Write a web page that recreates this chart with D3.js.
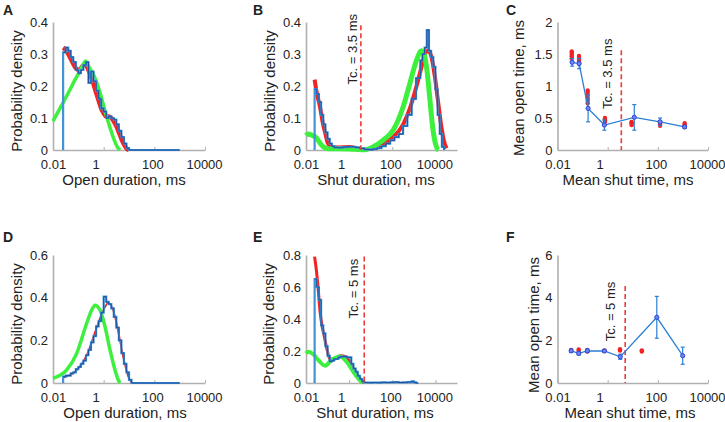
<!DOCTYPE html>
<html><head><meta charset="utf-8">
<script src="https://cdn.jsdelivr.net/npm/d3@7"></script>
<style>
body{margin:0;background:#fff}
svg{display:block}
text{font-family:"Liberation Sans",Arial,Helvetica,sans-serif;fill:#222}
</style>
</head><body>
<svg id="c" width="725" height="422"></svg>
<script>
// ---------- DATA ----------
const xTickValues = [0.01, 1, 100, 10000];
const xTickLabels = ["0.01", "1", "100", "10000"];
const xLabelShift = [0, -8, -2, -1];

const yTicksA = [0, 0.1, 0.2, 0.3, 0.4];
const yTicksB = [0, 0.1, 0.2, 0.3, 0.4];
const yTicksC = [0, 0.5, 1, 1.5, 2];
const yTicksD = [0, 0.2, 0.4, 0.6];
const yTicksE = [0, 0.2, 0.4, 0.6, 0.8];
const yTicksF = [0, 2, 4, 6];

// histograms: [bin start (ms), density]
const histA = [[0.0251,0.305],[0.0316,0.32],[0.0398,0.31],[0.0501,0.29],[0.0631,0.275],[0.0794,0.25],[0.1,0.24],[0.126,0.25],[0.158,0.265],[0.2,0.275],[0.251,0.21],[0.316,0.245],[0.398,0.215],[0.501,0.185],[0.631,0.16],[0.794,0.13],[1,0.12],[1.26,0.1],[1.58,0.105],[2,0.1],[2.51,0.095],[3.16,0.08],[3.98,0.06],[5.01,0.04],[6.31,0.02],[7.94,0.006],[10,0],[1000,0]];
const redA = [[0.0251,0.32],[0.03,0.315],[0.04,0.3],[0.05,0.285],[0.063,0.27],[0.08,0.255],[0.1,0.25],[0.126,0.255],[0.158,0.265],[0.2,0.265],[0.25,0.25],[0.316,0.23],[0.4,0.205],[0.5,0.18],[0.63,0.155],[0.8,0.13],[1,0.115],[1.26,0.105],[1.58,0.105],[2,0.1],[2.5,0.09],[3.16,0.075],[4,0.055],[5,0.035],[6.3,0.018],[8,0.005],[10,0]];
const greenA = [[0.01,0.09],[0.025,0.148],[0.05,0.193],[0.063,0.209],[0.1,0.238],[0.158,0.268],[0.19,0.278],[0.25,0.262],[0.39,0.237],[0.716,0.18],[1.13,0.122],[1.78,0.07],[2.56,0.033],[3.45,0.01],[4.4,0]];

const histB = [[0.0251,0.19],[0.0316,0.175],[0.0398,0.15],[0.0501,0.11],[0.0631,0.08],[0.0794,0.055],[0.1,0.035],[0.126,0.02],[0.158,0.012],[0.2,0.008],[0.316,0.007],[0.501,0.009],[0.794,0.01],[1.26,0.01],[2,0.008],[3.16,0.005],[5.01,0.002],[7.94,0.001],[12.6,0.003],[20,0.006],[31.6,0.012],[50.1,0.02],[79.4,0.03],[126,0.04],[200,0.05],[316,0.075],[501,0.11],[794,0.16],[1259,0.225],[1995,0.28],[2512,0.3],[3162,0.32],[3981,0.375],[5012,0.31],[6310,0.29],[7943,0.26],[10000,0.19],[12589,0.11],[15849,0.05],[19953,0.01],[25119,0]];
const redB = [[0.0251,0.22],[0.0313,0.18],[0.0445,0.135],[0.06,0.085],[0.08,0.05],[0.105,0.02],[0.15,0.01],[0.3,0.008],[1,0.009],[2,0.006],[3.5,0.001],[13.1,0.005],[37.9,0.02],[110,0.04],[320,0.08],[653,0.13],[1333,0.2],[2272,0.26],[3230,0.3],[4590,0.31],[6600,0.29],[9380,0.23],[13300,0.15],[19100,0.07],[24500,0.03],[32600,0.005]];
const greenB = [[0.01,0.045],[0.0128,0.05],[0.019,0.046],[0.0313,0.037],[0.0445,0.022],[0.0632,0.01],[0.1045,0.004],[0.375,0.004],[1.86,0.002],[5.4,0.001],[13.1,0.01],[37.9,0.031],[110,0.062],[320,0.135],[653,0.208],[1333,0.281],[2270,0.31],[3100,0.295],[4200,0.24],[5500,0.16],[7200,0.08],[9600,0.025],[12500,0.003],[14000,0]];

const histD = [[0.0251,0.03],[0.0316,0.035],[0.0398,0.035],[0.0501,0.045],[0.0631,0.05],[0.0794,0.065],[0.1,0.075],[0.126,0.09],[0.158,0.105],[0.2,0.13],[0.251,0.155],[0.316,0.19],[0.398,0.22],[0.501,0.265],[0.631,0.29],[0.794,0.33],[1,0.405],[1.26,0.38],[1.58,0.37],[2,0.35],[2.51,0.31],[3.16,0.26],[3.98,0.2],[5.01,0.14],[6.31,0.09],[7.94,0.05],[10,0.015],[12.6,0],[1000,0]];
const redD = [[0.0255,0.025],[0.0863,0.06],[0.214,0.13],[0.531,0.26],[0.968,0.34],[1.52,0.376],[2.4,0.34],[3.78,0.24],[5.96,0.12],[9.4,0.03],[12.8,0]];
const greenD = [[0.01,0.022],[0.0348,0.061],[0.0863,0.139],[0.214,0.28],[0.337,0.342],[0.455,0.365],[0.716,0.342],[1.13,0.264],[1.78,0.155],[2.8,0.061],[3.78,0.014],[4.42,0]];

const histE = [[0.0251,0.65],[0.0316,0.6],[0.0398,0.52],[0.0501,0.36],[0.0631,0.31],[0.0794,0.23],[0.1,0.17],[0.126,0.135],[0.158,0.14],[0.2,0.15],[0.251,0.15],[0.316,0.16],[0.398,0.165],[0.501,0.165],[0.631,0.165],[0.794,0.16],[1,0.16],[1.26,0.12],[1.58,0.09],[2,0.07],[2.51,0.045],[3.16,0.025],[3.98,0.01],[5.01,0.003],[7.94,0.002],[12.6,0.003],[20,0.002],[31.6,0.004],[50.1,0.003],[79.4,0.004],[126,0.005],[200,0.003],[316,0.004],[501,0.006],[794,0.01],[1000,0.004],[1259,0],[1585,0]];
const redE = [[0.025,0.79],[0.0306,0.7],[0.036,0.6],[0.0445,0.45],[0.055,0.36],[0.068,0.3],[0.094,0.21],[0.129,0.15],[0.22,0.15],[0.375,0.17],[0.71,0.165],[1.09,0.13],[1.86,0.075],[3.16,0.03],[4.85,0]];
const greenE = [[0.01,0.185],[0.0128,0.196],[0.0218,0.18],[0.037,0.144],[0.076,0.108],[0.155,0.144],[0.375,0.165],[0.766,0.133],[1.55,0.071],[2.64,0.029],[4.22,0]];

// mean open vs mean shut: [shut (ms), open (ms), error]
const meanC = [[0.0384,1.37,0.06],[0.073,1.35,0.08],[0.166,0.65,0.21],[0.74,0.39,0.08],[11.5,0.51,0.2],[123,0.44,0.06],[1170,0.36,0.02]];
const simC = [[0.037,[1.43,1.46,1.49,1.52,1.54]],[0.072,[1.38,1.41,1.44,1.47]],[0.16,[0.73,0.77,0.81,0.85,0.89,0.93]],[0.78,[0.44,0.46,0.48,0.5]],[9.0,[0.39,0.41,0.43,0.44]],[123,[0.38,0.4,0.42,0.44]],[1170,[0.36,0.38,0.4,0.42]]];
const meanF = [[0.035,1.51,0.08],[0.07,1.39,0.08],[0.155,1.51,0.08],[0.74,1.5,0.06],[3.18,1.23,0.12],[91,3.08,0.98],[980,1.28,0.4]];
const simF = [[0.035,[1.55]],[0.07,[1.5,1.57]],[0.155,[1.48,1.55]],[0.74,[1.5,1.53]],[3.1,[1.52,1.58]],[23,[1.48,1.53]]];

// critical times: [Tc (ms), line top value, label centre value, label]
const tcB = [3.5, 0.39, 0.315, "Tc. = 3.5 ms"];
const tcC = [3.5, 1.56, 1.19, "Tc. = 3.5 ms"];
const tcE = [5, 0.79, 0.59, "Tc. = 5 ms"];
const tcF = [5, 4.55, 3.35, "Tc. = 5 ms"];

// ---------- DRAWING ----------
const svg = d3.select("#c");
const AX = "#b0b0b0";
const C_LB = "#4193d8", C_DB = "#1d4f9e", C_RED = "#f22222", C_GRN = "#3df03d", C_LINE = "#2a7fd4";

function panel(o) {
  const x = d3.scaleLog().domain(o.xDomain).range(o.xRange);
  const y = d3.scaleLinear().domain(o.yDomain).range(o.yRange);
  const g = svg.append("g");

  // x axis
  const gx = g.append("g").attr("transform", `translate(0,${o.yRange[0]})`)
    .call(d3.axisBottom(x).tickValues(xTickValues).tickFormat((d, i) => xTickLabels[i])
      .tickSizeInner(-3).tickSizeOuter(0).tickPadding(10));
  gx.select(".domain").attr("stroke", AX).attr("stroke-width", 1.6);
  gx.selectAll(".tick line").attr("stroke", AX).attr("stroke-width", 1);
  gx.selectAll(".tick text").attr("font-size", 13).attr("fill", "#222")
    .attr("font-family", '"Liberation Sans",Arial,sans-serif')
    .attr("dx", (d, i) => xLabelShift[i]);

  // y axis
  const gy = g.append("g").attr("transform", `translate(${o.xRange[0]},0)`)
    .call(d3.axisLeft(y).tickValues(o.yTicks).tickFormat(d3.format("~g")).tickSize(0).tickPadding(5));
  gy.select(".domain").attr("stroke", AX).attr("stroke-width", 1.6);
  gy.selectAll(".tick text").attr("font-size", 13).attr("fill", "#222")
    .attr("font-family", '"Liberation Sans",Arial,sans-serif');

  // titles
  g.append("text").attr("x", o.xTitle[0]).attr("y", o.xTitle[1]).attr("text-anchor", "middle")
    .attr("font-size", 15).text(o.xLabel);
  g.append("text").attr("transform", `translate(${o.yTitle[0]},${o.yTitle[1]}) rotate(-90)`)
    .attr("text-anchor", "middle").attr("font-size", 15).text(o.yLabel);
  g.append("text").attr("x", o.letter[0]).attr("y", o.letter[1]).attr("font-size", 14)
    .attr("font-weight", "bold").attr("fill", "#000").text(o.letterText);

  if (o.red) {
    g.append("path").datum(o.red).attr("fill", "none").attr("stroke", C_RED)
      .attr("stroke-width", o.redW || 4).attr("stroke-linejoin", "round")
      .attr("d", d3.line().x(d => x(d[0])).y(d => y(d[1])).curve(d3.curveMonotoneX));
  }
  if (o.green) {
    g.append("path").datum(o.green).attr("fill", "none").attr("stroke", C_GRN)
      .attr("stroke-width", o.greenW || 3.5).attr("stroke-linejoin", "round")
      .attr("d", d3.line().x(d => x(d[0])).y(d => y(d[1])).curve(d3.curveMonotoneX));
  }
  if (o.hist) {
    const pts = [[o.hist[0][0], 0]].concat(o.hist);
    const step = d3.line().x(d => x(d[0])).y(d => y(d[1])).curve(d3.curveStepAfter);
    g.append("path").datum(pts).attr("fill", "none").attr("stroke", C_LB).attr("stroke-width", 2.2).attr("d", step);
    g.append("path").datum(pts.slice(1)).attr("fill", "none").attr("stroke", C_DB).attr("stroke-width", 1).attr("d", step);
  }
  if (o.tc) {
    const tx = x(o.tc[0]);
    g.append("line").attr("x1", tx).attr("x2", tx).attr("y1", y(o.tc[1])).attr("y2", y(0))
      .attr("stroke", "#ee3b3b").attr("stroke-width", 1.6).attr("stroke-dasharray", "5,3");
    g.append("text").attr("transform", `translate(${tx - o.tcOff},${y(o.tc[2])}) rotate(-90)`)
      .attr("text-anchor", "middle").attr("font-size", 13).text(o.tc[3]);
  }
  if (o.sim) {
    o.sim.forEach(s => {
      g.selectAll(null).data(s[1]).enter().append("circle")
        .attr("cx", x(s[0])).attr("cy", d => y(d)).attr("r", 2.2).attr("fill", C_RED);
    });
  }
  if (o.mean) {
    const m = o.mean;
    const eb = g.append("g").attr("stroke", C_LINE).attr("stroke-width", 1.2);
    m.forEach(d => {
      const cx = x(d[0]);
      eb.append("line").attr("x1", cx).attr("x2", cx).attr("y1", y(d[1] - d[2])).attr("y2", y(d[1] + d[2]));
      eb.append("line").attr("x1", cx - 2).attr("x2", cx + 2).attr("y1", y(d[1] - d[2])).attr("y2", y(d[1] - d[2]));
      eb.append("line").attr("x1", cx - 2).attr("x2", cx + 2).attr("y1", y(d[1] + d[2])).attr("y2", y(d[1] + d[2]));
    });
    g.append("path").datum(m).attr("fill", "none").attr("stroke", C_LINE).attr("stroke-width", 1.3)
      .attr("d", d3.line().x(d => x(d[0])).y(d => y(d[1])));
    g.selectAll(null).data(m).enter().append("circle")
      .attr("cx", d => x(d[0])).attr("cy", d => y(d[1])).attr("r", 2.1)
      .attr("fill", "#6f86f0").attr("stroke", "#2a45d8").attr("stroke-width", 1);
  }
}

panel({letterText:"A", letter:[3,15], xDomain:[0.01,10000], xRange:[53,205], yDomain:[0,0.4], yRange:[150,22], yTicks:yTicksA,
  xLabel:"Open duration, ms", yLabel:"Probability density", xTitle:[124,185], yTitle:[22,91],
  hist:histA, red:redA, green:greenA, redW:4.5, greenW:3.5});
panel({letterText:"B", letter:[253,15], xDomain:[0.01,100000], xRange:[306,457], yDomain:[0,0.4], yRange:[150,22], yTicks:yTicksB,
  xLabel:"Shut duration, ms", yLabel:"Probability density", xTitle:[376,185], yTitle:[275,91],
  hist:histB, red:redB, green:greenB, redW:4, greenW:5, tc:tcB, tcOff:4});
panel({letterText:"C", letter:[506,15], xDomain:[0.01,10000], xRange:[557.5,708], yDomain:[0,2], yRange:[150,22], yTicks:yTicksC,
  xLabel:"Mean shut time, ms", yLabel:"Mean open time, ms", xTitle:[628,185], yTitle:[523.5,88],
  tc:tcC, tcOff:9.5, sim:simC, mean:meanC});
panel({letterText:"D", letter:[3,242], xDomain:[0.01,10000], xRange:[53,205], yDomain:[0,0.6], yRange:[383,255], yTicks:yTicksD,
  xLabel:"Open duration, ms", yLabel:"Probability density", xTitle:[125,418], yTitle:[22,324],
  hist:histD, red:redD, green:greenD, redW:1.8, greenW:3.5});
panel({letterText:"E", letter:[253,242], xDomain:[0.01,100000], xRange:[306,457], yDomain:[0,0.8], yRange:[383,255], yTicks:yTicksE,
  xLabel:"Shut duration, ms", yLabel:"Probability density", xTitle:[375,418], yTitle:[274,324],
  hist:histE, red:redE, green:greenE, redW:3, greenW:4, tc:tcE, tcOff:6.5});
panel({letterText:"F", letter:[506,242], xDomain:[0.01,10000], xRange:[557.5,708], yDomain:[0,6], yRange:[383,255], yTicks:yTicksF,
  xLabel:"Mean shut time, ms", yLabel:"Mean open time, ms", xTitle:[630,418], yTitle:[538.7,325],
  tc:tcF, tcOff:9.7, sim:simF, mean:meanF});
</script>
</body></html>
